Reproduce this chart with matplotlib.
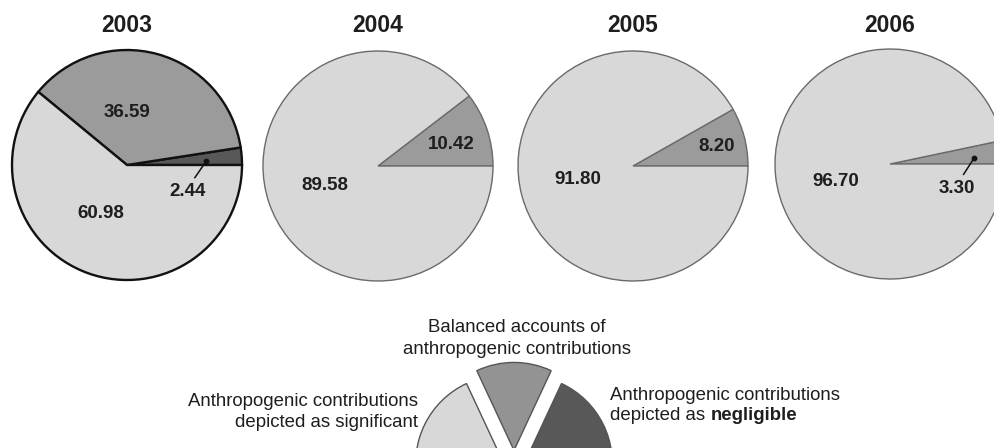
import matplotlib
matplotlib.use("Agg")
import matplotlib.pyplot as plt

plt.rcParams['font.family'] = ['Liberation Sans', 'DejaVu Sans']

# ---- data ----
years = ["2003", "2004", "2005", "2006"]
significant = [60.98, 89.58, 91.80, 96.70]
balanced = [36.59, 10.42, 8.20, 3.30]
negligible = [2.44, 0.0, 0.0, 0.0]

legend_labels = ["Anthropogenic contributions\ndepicted as significant",
                 "Balanced accounts of\nanthropogenic contributions",
                 "Anthropogenic contributions\ndepicted as "]
legend_bold = "negligible"
legend_sizes = [155, 50, 155]   # dark, medium, light (decorative key)

# ---- style ----
C_LIGHT = '#d8d8d8'
C_MED = '#9b9b9b'
C_DARK = '#585858'
TXT = '#1e1e1e'

W, H = 994, 448
fig = plt.figure(figsize=(W / 100, H / 100), dpi=100)


def pie_axes(cx, cy, r, pad=1.1):
    s = r * pad
    ax = fig.add_axes([(cx - s) / W, 1 - (cy + s) / H, 2 * s / W, 2 * s / H])
    return ax


def fix_limits(ax, pad):
    ax.set_xlim(-pad, pad)
    ax.set_ylim(-pad, pad)
    ax.set_aspect('equal')
    ax.axis('off')


centers = [(127, 165), (378, 166), (633, 166), (890, 164)]
R = 115
PAD = 1.1
title_y = 26

# label offsets (fraction of radius) for [negligible, balanced, significant]
label_pos = [
    [(0.53, -0.23), (0.0, 0.46), (-0.23, -0.42)],
    [None, (0.64, 0.19), (-0.46, -0.17)],
    [None, (0.73, 0.17), (-0.48, -0.12)],
    [None, (0.58, -0.21), (-0.47, -0.15)],
]
dots = {0: (0.69, 0.035), 3: (0.73, 0.05)}

for i, yr in enumerate(years):
    cx, cy = centers[i]
    ax = pie_axes(cx, cy, R, PAD)
    vals = [negligible[i], balanced[i], significant[i]]
    cols = [C_DARK, C_MED, C_LIGHT]
    keep = [k for k, v in enumerate(vals) if v > 0]
    if i == 0:
        wp = dict(edgecolor='#111111', linewidth=1.7)
    else:
        wp = dict(edgecolor='#6a6a6a', linewidth=1.0)
    ax.pie([vals[k] for k in keep], colors=[cols[k] for k in keep],
           startangle=0, counterclock=True, radius=1.0, wedgeprops=wp)
    fix_limits(ax, PAD)
    fig.text(cx / W, 1 - title_y / H, yr, ha='center', va='center',
             fontsize=16.5, fontweight='bold', color=TXT)
    for k in keep:
        pos = label_pos[i][k]
        ax.text(pos[0], pos[1], f"{vals[k]:.2f}", ha='center', va='center',
                fontsize=13.5, fontweight='bold', color=TXT)
    if i in dots:
        small_k = 0 if negligible[i] > 0 else 1
        pos = label_pos[i][small_k]
        dx, dy = dots[i]
        ax.plot([dx], [dy], 'o', color='#111111', markersize=3.2)
        ax.plot([dx, pos[0] + 0.06], [dy, pos[1] + 0.12],
                color='#111111', linewidth=1.1)

# ---- key pie ----
LPAD = 1.3
lax = pie_axes(514, 461, 88, pad=LPAD)
lax.pie(legend_sizes, colors=[C_DARK, '#939393', C_LIGHT], startangle=-90,
        counterclock=True, explode=[0.12, 0.12, 0.12], radius=1.0,
        wedgeprops=dict(edgecolor='#555555', linewidth=1.0))
fix_limits(lax, LPAD)

# key texts (line by line, baselines in pixel coords)
sig_lines = legend_labels[0].split("\n")
bal_lines = legend_labels[1].split("\n")
neg_lines = legend_labels[2].split("\n")
FS = 13.4

for line, yb in zip(bal_lines, [332, 354]):
    fig.text(517 / W, 1 - yb / H, line, ha='center', va='baseline',
             fontsize=FS, color=TXT)
for line, yb in zip(sig_lines, [406, 427]):
    fig.text(418 / W, 1 - yb / H, line, ha='right', va='baseline',
             fontsize=FS, color=TXT)
fig.text(610 / W, 1 - 400 / H, neg_lines[0], ha='left', va='baseline',
         fontsize=FS, color=TXT)
t2 = fig.text(610 / W, 1 - 420 / H, neg_lines[1], ha='left', va='baseline',
              fontsize=FS, color=TXT)
fig.canvas.draw()
bb = t2.get_window_extent()
fig.text(bb.x1 / W, 1 - 420 / H, legend_bold, fontsize=FS, fontweight='bold',
         color=TXT, ha='left', va='baseline')

fig.savefig("out.png", dpi=100, facecolor='white')
